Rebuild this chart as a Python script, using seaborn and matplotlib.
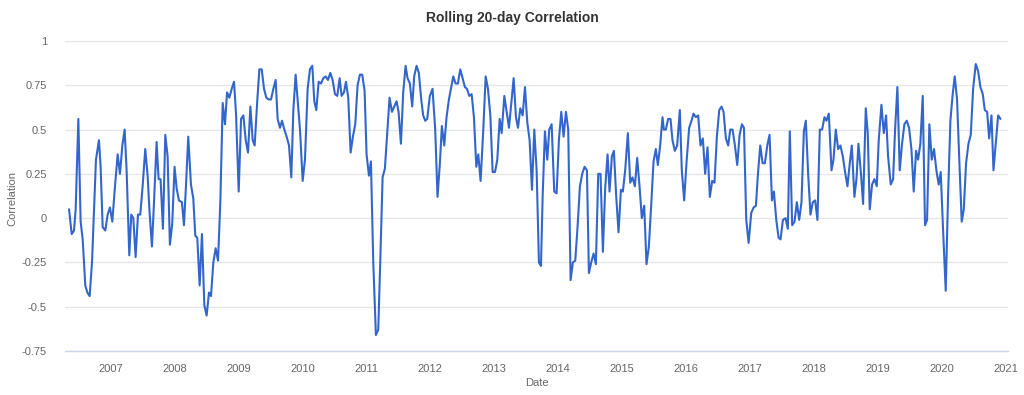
import matplotlib
matplotlib.use("Agg")
import matplotlib.pyplot as plt
import matplotlib.dates as mdates
import matplotlib.ticker as mticker
import pandas as pd
import seaborn as sns

# sample times as decimal years
years = [
    2006.343, 2006.385, 2006.421, 2006.447, 2006.489, 2006.525, 2006.557, 2006.598, 2006.630, 2006.666,
    2006.703, 2006.739, 2006.765, 2006.812, 2006.838, 2006.870, 2006.911, 2006.948, 2006.984, 2007.021,
    2007.063, 2007.105, 2007.141, 2007.178, 2007.214, 2007.245, 2007.287, 2007.318, 2007.350, 2007.386,
    2007.423, 2007.459, 2007.496, 2007.537, 2007.574, 2007.605, 2007.642, 2007.678, 2007.715, 2007.746,
    2007.777, 2007.814, 2007.851, 2007.887, 2007.923, 2007.960, 2007.996, 2008.028, 2008.064, 2008.111,
    2008.143, 2008.174, 2008.210, 2008.252, 2008.289, 2008.320, 2008.351, 2008.388, 2008.424, 2008.461,
    2008.497, 2008.534, 2008.565, 2008.602, 2008.638, 2008.675, 2008.711, 2008.748, 2008.784, 2008.816,
    2008.852, 2008.889, 2008.925, 2008.956, 2008.998, 2009.035, 2009.071, 2009.108, 2009.144, 2009.181,
    2009.217, 2009.248, 2009.290, 2009.322, 2009.358, 2009.395, 2009.431, 2009.468, 2009.504, 2009.541,
    2009.577, 2009.608, 2009.645, 2009.676, 2009.713, 2009.749, 2009.786, 2009.822, 2009.854, 2009.890,
    2009.921, 2009.958, 2010.000, 2010.036, 2010.078, 2010.114, 2010.151, 2010.182, 2010.214, 2010.250,
    2010.287, 2010.323, 2010.360, 2010.396, 2010.433, 2010.469, 2010.506, 2010.542, 2010.579, 2010.610,
    2010.647, 2010.678, 2010.714, 2010.751, 2010.787, 2010.824, 2010.860, 2010.897, 2010.933, 2010.970,
    2011.001, 2011.038, 2011.069, 2011.106, 2011.147, 2011.184, 2011.215, 2011.252, 2011.288, 2011.325,
    2011.361, 2011.398, 2011.434, 2011.471, 2011.502, 2011.539, 2011.575, 2011.612, 2011.643, 2011.679,
    2011.716, 2011.747, 2011.784, 2011.820, 2011.857, 2011.888, 2011.919, 2011.951, 2011.992, 2012.034,
    2012.076, 2012.112, 2012.149, 2012.180, 2012.217, 2012.253, 2012.290, 2012.326, 2012.358, 2012.394,
    2012.431, 2012.467, 2012.504, 2012.540, 2012.572, 2012.608, 2012.645, 2012.681, 2012.718, 2012.749,
    2012.785, 2012.827, 2012.864, 2012.900, 2012.937, 2012.973, 2013.010, 2013.046, 2013.083, 2013.114,
    2013.156, 2013.192, 2013.229, 2013.265, 2013.302, 2013.338, 2013.370, 2013.406, 2013.443, 2013.479,
    2013.516, 2013.552, 2013.589, 2013.625, 2013.662, 2013.698, 2013.730, 2013.756, 2013.792, 2013.829,
    2013.860, 2013.897, 2013.938, 2013.975, 2014.011, 2014.048, 2014.084, 2014.121, 2014.157, 2014.194,
    2014.230, 2014.267, 2014.303, 2014.340, 2014.376, 2014.413, 2014.450, 2014.481, 2014.517, 2014.554,
    2014.590, 2014.627, 2014.663, 2014.700, 2014.736, 2014.773, 2014.804, 2014.841, 2014.872, 2014.909,
    2014.945, 2014.982, 2015.013, 2015.049, 2015.091, 2015.128, 2015.164, 2015.201, 2015.237, 2015.274,
    2015.310, 2015.347, 2015.383, 2015.420, 2015.456, 2015.493, 2015.529, 2015.561, 2015.597, 2015.634,
    2015.655, 2015.686, 2015.722, 2015.759, 2015.790, 2015.827, 2015.863, 2015.905, 2015.936, 2015.973,
    2016.009, 2016.051, 2016.088, 2016.119, 2016.155, 2016.192, 2016.228, 2016.265, 2016.301, 2016.338,
    2016.374, 2016.411, 2016.447, 2016.484, 2016.521, 2016.557, 2016.588, 2016.625, 2016.661, 2016.693,
    2016.729, 2016.766, 2016.802, 2016.839, 2016.875, 2016.907, 2016.943, 2016.980, 2017.021, 2017.058,
    2017.094, 2017.126, 2017.162, 2017.199, 2017.235, 2017.272, 2017.308, 2017.345, 2017.376, 2017.413,
    2017.449, 2017.480, 2017.517, 2017.558, 2017.594, 2017.625, 2017.662, 2017.699, 2017.735, 2017.772,
    2017.808, 2017.845, 2017.876, 2017.912, 2017.949, 2017.985, 2018.022, 2018.058, 2018.095, 2018.131,
    2018.168, 2018.199, 2018.236, 2018.278, 2018.309, 2018.345, 2018.382, 2018.418, 2018.455, 2018.491,
    2018.528, 2018.564, 2018.596, 2018.637, 2018.669, 2018.700, 2018.742, 2018.773, 2018.815, 2018.846,
    2018.877, 2018.914, 2018.950, 2018.987, 2019.018, 2019.060, 2019.097, 2019.133, 2019.164, 2019.206,
    2019.243, 2019.274, 2019.310, 2019.347, 2019.383, 2019.420, 2019.457, 2019.493, 2019.530, 2019.566,
    2019.603, 2019.634, 2019.670, 2019.707, 2019.743, 2019.775, 2019.811, 2019.848, 2019.884, 2019.921,
    2019.957, 2019.989, 2020.025, 2020.067, 2020.103, 2020.140, 2020.176, 2020.208, 2020.244, 2020.281,
    2020.317, 2020.349, 2020.385, 2020.422, 2020.458, 2020.495, 2020.536, 2020.573, 2020.609, 2020.646,
    2020.677, 2020.714, 2020.745, 2020.782, 2020.813, 2020.849, 2020.886, 2020.922,
]

corr = [
    0.05, -0.09, -0.07, 0.05, 0.56, -0.02, -0.12, -0.38, -0.42, -0.44,
    -0.25, 0.09, 0.33, 0.44, 0.29, -0.05, -0.07, 0.02, 0.06, -0.02,
    0.18, 0.36, 0.25, 0.41, 0.50, 0.27, -0.21, 0.02, 0.00, -0.22,
    0.02, 0.02, 0.18, 0.39, 0.24, 0.03, -0.16, 0.12, 0.43, 0.22,
    0.22, -0.06, 0.47, 0.35, -0.15, -0.03, 0.29, 0.17, 0.10, 0.09,
    -0.04, 0.18, 0.46, 0.19, 0.11, -0.10, -0.11, -0.38, -0.09, -0.49,
    -0.55, -0.42, -0.44, -0.25, -0.17, -0.24, 0.09, 0.65, 0.53, 0.71,
    0.68, 0.73, 0.77, 0.59, 0.15, 0.56, 0.58, 0.44, 0.37, 0.63,
    0.44, 0.41, 0.67, 0.84, 0.84, 0.73, 0.68, 0.67, 0.67, 0.73,
    0.78, 0.56, 0.51, 0.55, 0.50, 0.46, 0.41, 0.23, 0.61, 0.81,
    0.67, 0.50, 0.21, 0.33, 0.73, 0.84, 0.86, 0.66, 0.61, 0.77,
    0.76, 0.79, 0.80, 0.78, 0.82, 0.78, 0.70, 0.69, 0.79, 0.69,
    0.71, 0.77, 0.68, 0.37, 0.46, 0.53, 0.75, 0.81, 0.81, 0.72,
    0.36, 0.24, 0.32, -0.25, -0.66, -0.63, -0.25, 0.23, 0.28, 0.48,
    0.68, 0.60, 0.63, 0.66, 0.60, 0.42, 0.71, 0.86, 0.79, 0.76,
    0.63, 0.80, 0.86, 0.82, 0.67, 0.58, 0.55, 0.56, 0.69, 0.73,
    0.50, 0.12, 0.31, 0.52, 0.41, 0.57, 0.67, 0.74, 0.80, 0.76,
    0.76, 0.84, 0.79, 0.74, 0.73, 0.69, 0.70, 0.57, 0.29, 0.36,
    0.21, 0.50, 0.80, 0.73, 0.58, 0.26, 0.26, 0.33, 0.56, 0.48,
    0.69, 0.60, 0.51, 0.65, 0.79, 0.57, 0.51, 0.62, 0.58, 0.74,
    0.54, 0.44, 0.16, 0.50, 0.27, -0.25, -0.27, 0.12, 0.49, 0.33,
    0.50, 0.53, 0.15, 0.14, 0.44, 0.60, 0.46, 0.60, 0.50, -0.35,
    -0.25, -0.24, -0.05, 0.18, 0.25, 0.29, 0.27, -0.31, -0.25, -0.20,
    -0.26, 0.25, 0.25, -0.19, 0.17, 0.36, 0.15, 0.35, 0.38, 0.12,
    -0.08, 0.16, 0.15, 0.27, 0.48, 0.20, 0.23, 0.18, 0.34, 0.18,
    0.00, 0.07, -0.26, -0.16, 0.07, 0.32, 0.39, 0.30, 0.41, 0.57,
    0.50, 0.50, 0.56, 0.56, 0.44, 0.38, 0.41, 0.61, 0.27, 0.10,
    0.31, 0.51, 0.55, 0.59, 0.57, 0.58, 0.41, 0.45, 0.25, 0.40,
    0.12, 0.21, 0.20, 0.46, 0.61, 0.63, 0.60, 0.45, 0.41, 0.50,
    0.50, 0.41, 0.30, 0.47, 0.53, 0.51, -0.01, -0.14, 0.03, 0.06,
    0.07, 0.25, 0.41, 0.31, 0.31, 0.41, 0.47, 0.10, 0.15, -0.01,
    -0.11, -0.12, -0.01, 0.00, -0.06, 0.49, -0.04, -0.02, 0.09, -0.01,
    0.09, 0.49, 0.55, 0.25, 0.02, 0.09, 0.10, -0.01, 0.50, 0.50,
    0.57, 0.55, 0.59, 0.27, 0.33, 0.50, 0.39, 0.41, 0.35, 0.26,
    0.18, 0.31, 0.41, 0.12, 0.22, 0.42, 0.24, 0.08, 0.62, 0.48,
    0.05, 0.19, 0.22, 0.18, 0.44, 0.64, 0.48, 0.58, 0.35, 0.19,
    0.22, 0.50, 0.74, 0.27, 0.42, 0.53, 0.55, 0.51, 0.39, 0.15,
    0.38, 0.33, 0.42, 0.69, -0.04, -0.01, 0.53, 0.33, 0.39, 0.27,
    0.19, 0.26, -0.06, -0.41, 0.12, 0.55, 0.70, 0.80, 0.67, 0.31,
    -0.02, 0.05, 0.31, 0.42, 0.47, 0.73, 0.87, 0.83, 0.74, 0.70,
    0.61, 0.60, 0.45, 0.58, 0.27, 0.42, 0.58, 0.56,
]

assert len(years) == len(corr)

year_ticks = list(range(2007, 2022))
y_ticks = [-0.75, -0.5, -0.25, 0, 0.25, 0.5, 0.75, 1]


def to_timestamp(y):
    yr = int(y)
    start = pd.Timestamp(yr, 1, 1)
    return start + (pd.Timestamp(yr + 1, 1, 1) - start) * (y - yr)


df = pd.DataFrame({"Date": [to_timestamp(y) for y in years], "Correlation": corr})

sns.set_theme(style="white")
plt.rcParams["font.family"] = ["Liberation Sans", "DejaVu Sans"]

W, H = 1024, 395
fig = plt.figure(figsize=(W / 100, H / 100), dpi=100)
ax = fig.add_axes([65 / W, 1 - 351 / H, (1008 - 65) / W, (351 - 41) / H])

sns.lineplot(data=df, x="Date", y="Correlation", ax=ax, color="#3366cc",
             linewidth=1.5, sort=False)

ax.set_ylim(-0.75, 1)
ax.set_xlim(to_timestamp(2006.28), to_timestamp(2021.04))
ax.set_yticks(y_ticks)
ax.yaxis.set_major_formatter(mticker.FuncFormatter(lambda v, _: f"{v:g}"))
ax.set_xticks([pd.Timestamp(y, 1, 1) for y in year_ticks])
ax.xaxis.set_major_formatter(mdates.DateFormatter("%Y"))

ax.grid(axis="y", color="#e6e6e6", linewidth=1)
ax.grid(axis="x", visible=False)
for side in ["top", "right", "left"]:
    ax.spines[side].set_visible(False)
ax.spines["bottom"].set_color("#ccd6eb")
ax.spines["bottom"].set_linewidth(1)

ax.tick_params(axis="y", length=0, pad=13, labelsize=8, labelcolor="#666666")
ax.tick_params(axis="x", length=7, width=0.8, color="#ccd6eb", pad=2,
               labelsize=8, labelcolor="#666666")

ax.set_xlabel("Date", fontsize=8, color="#666666")
ax.set_ylabel("Correlation", fontsize=8, color="#666666")
ax.xaxis.set_label_coords(0.5, (351 - 378) / 310)
ax.yaxis.set_label_coords((17 - 65) / 943, (351 - 198) / 310)

fig.text(0.5, 1 - 18 / H, "Rolling 20-day Correlation", ha="center", va="center",
         fontsize=10, fontweight="bold", color="#333333")

fig.savefig("out.png", dpi=100)
plt.close(fig)
